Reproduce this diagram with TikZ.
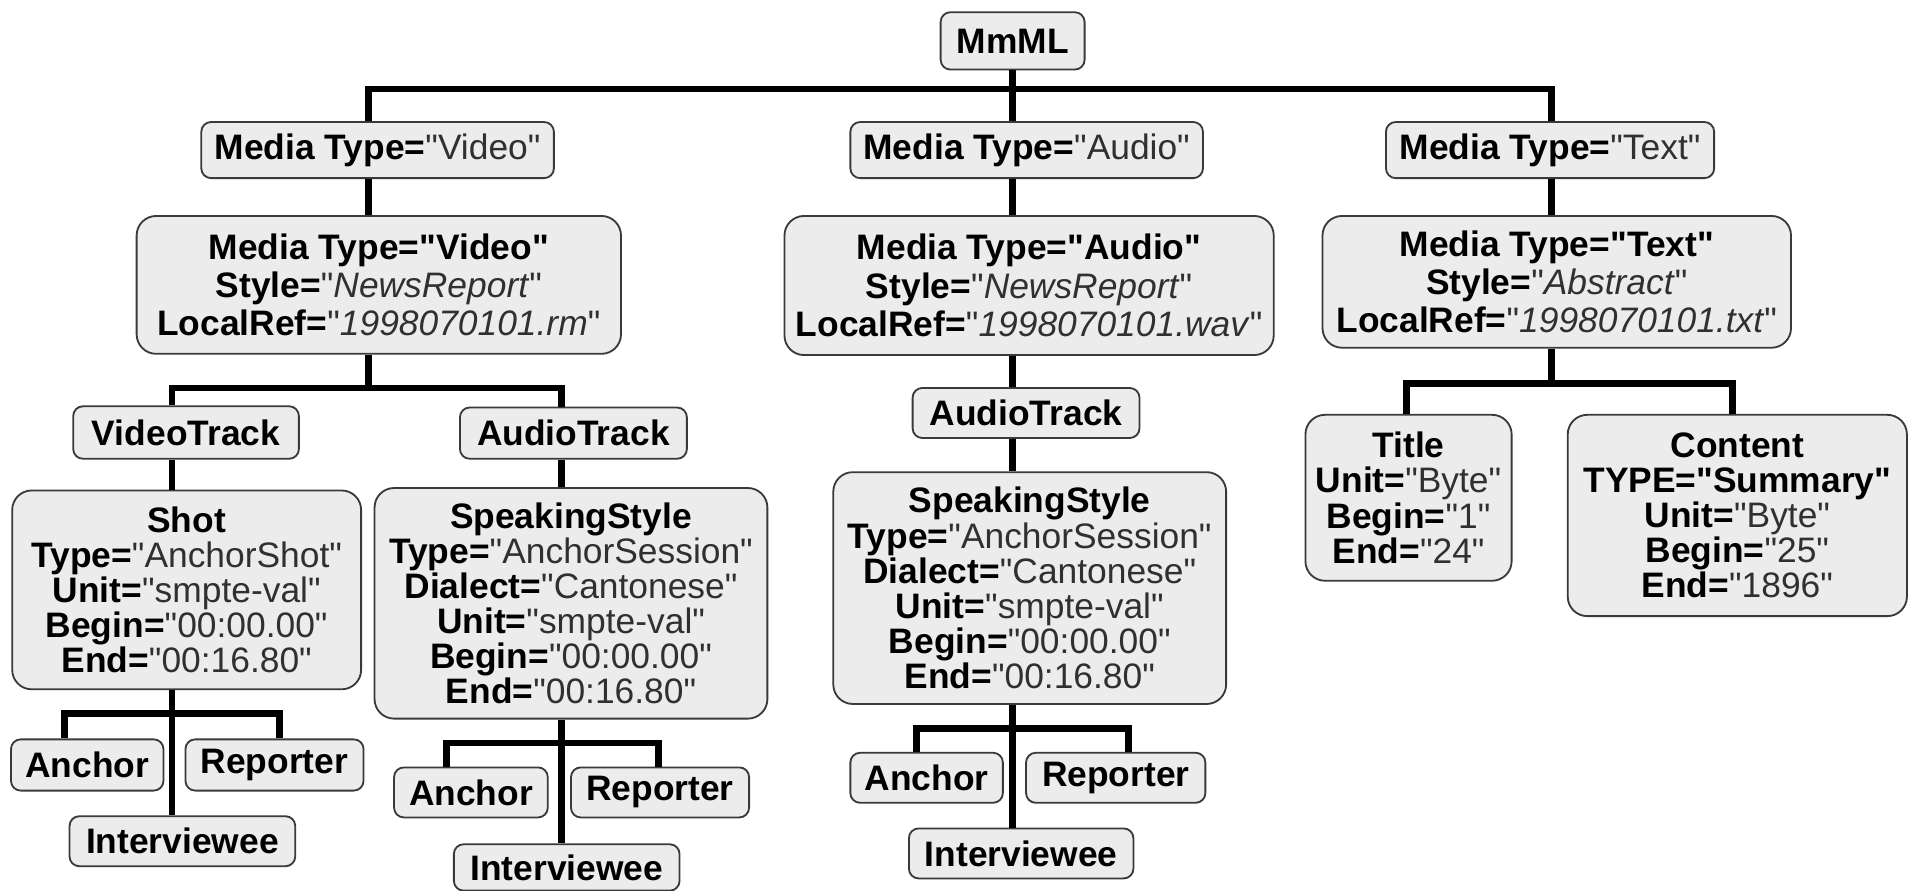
\documentclass[tikz,border=0pt]{standalone}
\usepackage{fontspec}
\setmainfont{Liberation Sans}[Ligatures=TeXOff]
\usepackage{xcolor}

\definecolor{boxfill}{HTML}{ECECEC}
\definecolor{boxline}{HTML}{3A3A3A}
\definecolor{valgray}{HTML}{303030}

\newcommand{\mmkey}[1]{\textbf{#1}}
\newcommand{\mmval}[1]{{\color{valgray}"#1"}}
\newcommand{\mmival}[1]{{\color{valgray}"\textit{#1}"}}

\begin{document}
\begin{tikzpicture}[x=0.5pt, y=-0.5pt,
	tag/.style={draw=boxline, fill=boxfill, line width=0.75pt, rounded corners=4pt,
		inner sep=1pt, align=center, font=\fontsize{14.5}{14.4}\selectfont},
	elem/.style={tag, rounded corners=8pt},
	media/.style={elem, font=\fontsize{14.5}{15.7}\selectfont},
	link/.style={line width=2.8pt, black}]
		
		%Canvas
		\fill[white] (0,0) rectangle (1568,730);
		\useasboundingbox (0,0) rectangle (1568,730);
		
		%Root and media types
		\node[tag, minimum width=59pt, minimum height=23.5pt] (mmml) at (830,33.5) {\textbf{MmML}};
		\node[tag, minimum width=144.5pt, minimum height=23pt] (vidtype) at (309.5,123) 
		{\mmkey{Media Type=}\mmval{Video}};
		\node[tag, minimum width=144.5pt, minimum height=23pt] (audtype) at (841.5,123) 
		{\mmkey{Media Type=}\mmval{Audio}};
		\node[tag, minimum width=134.5pt, minimum height=23pt] (txttype) at (1270.5,123) 
		{\mmkey{Media Type=}\mmval{Text}};
		
		%Media elements
		\node[media, minimum width=198.5pt, minimum height=56.5pt] (vidmedia) at (310.5,233.5) 
		{\mmkey{Media Type="Video"}\\ \mmkey{Style=}\mmival{NewsReport}\\ 
		\mmkey{LocalRef=}\mmival{1998070101.rm}};
		\node[media, minimum width=200.5pt, minimum height=57pt] (audmedia) at (843.5,234) 
		{\mmkey{Media Type="Audio"}\\ \mmkey{Style=}\mmival{NewsReport}\\ 
		\mmkey{LocalRef=}\mmival{1998070101.wav}};
		\node[media, minimum width=192pt, minimum height=54pt] (txtmedia) at (1276,231) 
		{\mmkey{Media Type="Text"}\\ \mmkey{Style=}\mmival{Abstract}\\ 
		\mmkey{LocalRef=}\mmival{1998070101.txt}};
		
		%Video branch
		\node[tag, minimum width=92.5pt, minimum height=21.5pt] (vidtrack) at (152.5,354.5) {\textbf{VideoTrack}};
		\node[tag, minimum width=93pt, minimum height=21pt] (vaudtrack) at (470,355) {\textbf{AudioTrack}};
		\node[elem, minimum width=143pt, minimum height=81.5pt] (shot) at (153,483.5) 
		{\mmkey{Shot}\\ \mmkey{Type=}\mmval{AnchorShot}\\ \mmkey{Unit=}\mmval{smpte-val}\\ 
		\mmkey{Begin=}\mmval{00:00.00}\\ \mmkey{End=}\mmval{00:16.80}};
		\node[elem, minimum width=161pt, minimum height=94.5pt] (vspeak) at (468,494.5) 
		{\mmkey{SpeakingStyle}\\ \mmkey{Type=}\mmval{AnchorSession}\\ \mmkey{Dialect=}\mmval{Cantonese}\\ 
		\mmkey{Unit=}\mmval{smpte-val}\\ \mmkey{Begin=}\mmval{00:00.00}\\ \mmkey{End=}\mmval{00:16.80}};
		\node[tag, minimum width=62.5pt, minimum height=21pt] (vanchor) at (71.5,627) {\textbf{Anchor}};
		\node[tag, minimum width=73pt, minimum height=21pt] (vreporter) at (225,627) {\textbf{Reporter}};
		\node[tag, minimum width=92.5pt, minimum height=20.5pt] (vinter) at (149.5,689.5) {\textbf{Interviewee}};
		\node[tag, minimum width=63pt, minimum height=20.5pt] (aanchor) at (386,649.5) {\textbf{Anchor}};
		\node[tag, minimum width=73pt, minimum height=20.5pt] (areporter) at (541,649.5) {\textbf{Reporter}};
		\node[tag, minimum width=92.5pt, minimum height=19pt] (ainter) at (464.5,711) {\textbf{Interviewee}};
		
		%Audio branch
		\node[tag, minimum width=93pt, minimum height=20.5pt] (audtrack) at (841,338.5) {\textbf{AudioTrack}};
		\node[elem, minimum width=161pt, minimum height=95pt] (aspeak) at (844,482) 
		{\mmkey{SpeakingStyle}\\ \mmkey{Type=}\mmval{AnchorSession}\\ \mmkey{Dialect=}\mmval{Cantonese}\\ 
		\mmkey{Unit=}\mmval{smpte-val}\\ \mmkey{Begin=}\mmval{00:00.00}\\ \mmkey{End=}\mmval{00:16.80}};
		\node[tag, minimum width=62.5pt, minimum height=20.5pt] (banchor) at (759.5,637.5) {\textbf{Anchor}};
		\node[tag, minimum width=73.5pt, minimum height=20.5pt] (breporter) at (914.5,637.5) {\textbf{Reporter}};
		\node[tag, minimum width=92pt, minimum height=20.5pt] (binter) at (837,699.5) {\textbf{Interviewee}};
		
		%Text branch
		\node[elem, minimum width=84.5pt, minimum height=68pt] (title) at (1154.5,408) 
		{\mmkey{Title}\\ \mmkey{Unit=}\mmval{Byte}\\ \mmkey{Begin=}\mmval{1}\\ \mmkey{End=}\mmval{24}};
		\node[elem, minimum width=139pt, minimum height=82.5pt] (content) at (1424,422.5) 
		{\mmkey{Content}\\ \mmkey{TYPE="Summary"}\\ \mmkey{Unit=}\mmval{Byte}\\ 
		\mmkey{Begin=}\mmval{25}\\ \mmkey{End=}\mmval{1896}};
		
		%Columns and bars
		\coordinate (topL) at (302,73);
		\coordinate (topR) at (1272,73);
		\coordinate (audcol) at (830,0);
		\coordinate (vbarL) at (141,318);
		\coordinate (vbarR) at (460,318);
		\coordinate (sbarL) at (53,585);
		\coordinate (sbarR) at (229,585);
		\coordinate (pbarL) at (366,609);
		\coordinate (pbarR) at (540,609);
		\coordinate (qbarL) at (751,597);
		\coordinate (qbarR) at (925,597);
		\coordinate (tbarL) at (1153,314);
		\coordinate (tbarR) at (1420,314);
		
		%Root links
		\draw[link] (audcol |- mmml.south) -- (audcol |- audtype.north);
		\draw[link] (topL |- vidtype.north) -- (topL) -- (topR) -- (topR |- txttype.north);
		
		%Video links
		\draw[link] (topL |- vidtype.south) -- (topL |- vidmedia.north);
		\draw[link] (topL |- vidmedia.south) -- (topL |- vbarL);
		\draw[link] (vbarL |- vidtrack.north) -- (vbarL) -- (vbarR) -- (vbarR |- vaudtrack.north);
		\draw[link] (vbarL |- vidtrack.south) -- (vbarL |- shot.north);
		\draw[link] (vbarL |- shot.south) -- (vbarL |- vinter.north);
		\draw[link] (sbarL |- vanchor.north) -- (sbarL) -- (sbarR) -- (sbarR |- vreporter.north);
		\draw[link] (vbarR |- vaudtrack.south) -- (vbarR |- vspeak.north);
		\draw[link] (vbarR |- vspeak.south) -- (vbarR |- ainter.north);
		\draw[link] (pbarL |- aanchor.north) -- (pbarL) -- (pbarR) -- (pbarR |- areporter.north);
		
		%Audio links
		\draw[link] (audcol |- audtype.south) -- (audcol |- audmedia.north);
		\draw[link] (audcol |- audmedia.south) -- (audcol |- audtrack.north);
		\draw[link] (audcol |- audtrack.south) -- (audcol |- aspeak.north);
		\draw[link] (audcol |- aspeak.south) -- (audcol |- binter.north);
		\draw[link] (qbarL |- banchor.north) -- (qbarL) -- (qbarR) -- (qbarR |- breporter.north);
		
		%Text links
		\draw[link] (topR |- txttype.south) -- (topR |- txtmedia.north);
		\draw[link] (topR |- txtmedia.south) -- (topR |- tbarL);
		\draw[link] (tbarL |- title.north) -- (tbarL) -- (tbarR) -- (tbarR |- content.north);
		
\end{tikzpicture}
\end{document}
